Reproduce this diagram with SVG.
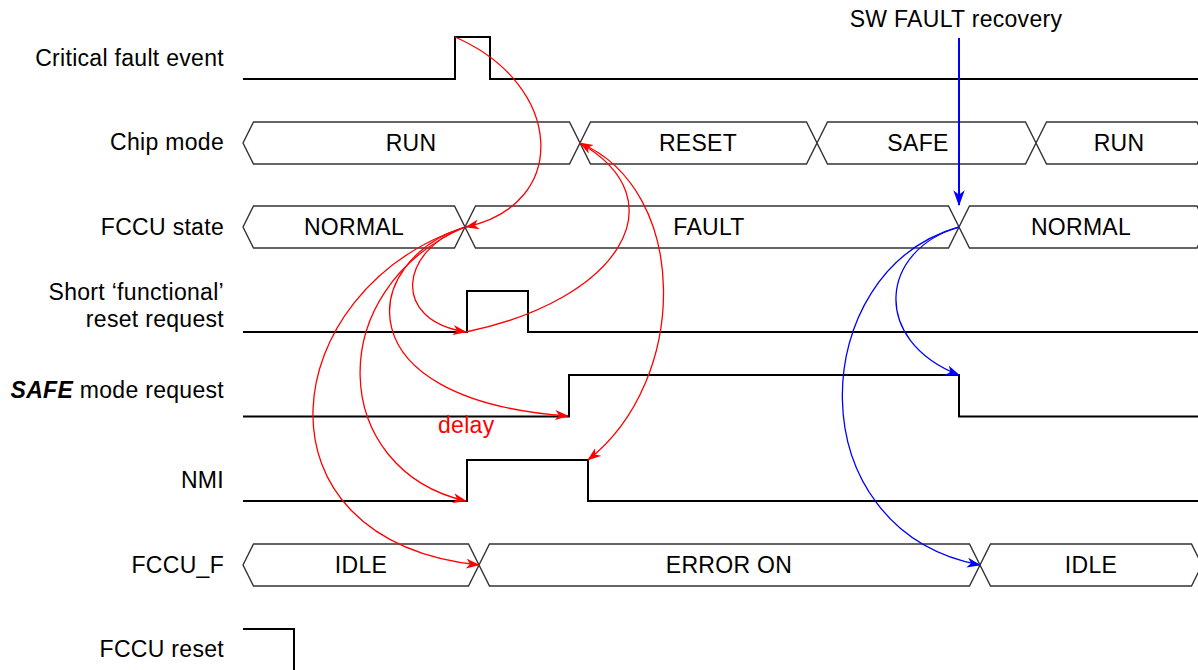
<svg xmlns="http://www.w3.org/2000/svg" width="1198" height="670" viewBox="0 0 1198 670">
<style>
text{font-family:"Liberation Sans",Arial,Helvetica,sans-serif;font-size:23px;fill:#000;letter-spacing:0.3px}
.lbl{text-anchor:end}
.mid{text-anchor:middle}
.sig{fill:none;stroke:#000;stroke-width:2}
.bus{fill:#fff;stroke:#333;stroke-width:1.4;stroke-linejoin:miter}
.r{fill:none;stroke:#f00;stroke-width:1.3}
.b{fill:none;stroke:#00f;stroke-width:1.3}
</style>
<defs>
<marker id="ar" viewBox="0 0 14 10" markerWidth="14" markerHeight="10" refX="13" refY="5" orient="auto" markerUnits="userSpaceOnUse"><path d="M0,0 L14,5 L0,10 L4,5 Z" fill="#f00"/></marker>
<marker id="ab" viewBox="0 0 14 10" markerWidth="14" markerHeight="10" refX="13" refY="5" orient="auto" markerUnits="userSpaceOnUse"><path d="M0,0 L14,5 L0,10 L4,5 Z" fill="#00f"/></marker>
<marker id="ab2" viewBox="0 0 14 10" markerWidth="16" markerHeight="12" refX="13" refY="5" orient="auto" markerUnits="userSpaceOnUse"><path d="M0,0 L14,5 L0,10 L4,5 Z" fill="#00f"/></marker>
</defs>

<g id="labels">
<text class="lbl" x="224" y="66">Critical fault event</text>
<text class="lbl" x="224" y="150">Chip mode</text>
<text class="lbl" x="224" y="235">FCCU state</text>
<text class="lbl" x="224" y="300">Short ‘functional’</text>
<text class="lbl" x="224" y="327">reset request</text>
<text class="lbl" x="224" y="398"><tspan font-weight="bold" font-style="italic">SAFE</tspan> mode request</text>
<text class="lbl" x="224" y="488">NMI</text>
<text class="lbl" x="224" y="573">FCCU_F</text>
<text class="lbl" x="224" y="657">FCCU reset</text>
</g>

<g id="critical-fault">
<path class="sig" d="M243,79 H455 V37 H490 V79 H1198"/>
</g>

<g id="chip-mode">
<path class="bus" d="M243,143 L253.5,122 H569.5 L580,143 L569.5,164 H253.5 Z"/>
<path class="bus" d="M580,143 L590.5,122 H806.5 L817,143 L806.5,164 H590.5 Z"/>
<path class="bus" d="M817,143 L827.5,122 H1025.5 L1036,143 L1025.5,164 H827.5 Z"/>
<path class="bus" d="M1036,143 L1046.5,122 H1197 L1207,143 L1197,164 H1046.5 Z"/>
<text class="mid" x="411" y="151">RUN</text>
<text class="mid" x="698" y="151">RESET</text>
<text class="mid" x="918" y="151">SAFE</text>
<text class="mid" x="1119" y="151">RUN</text>
</g>

<g id="fccu-state">
<path class="bus" d="M243,227 L253.5,206 H454.5 L465,227 L454.5,248 H253.5 Z"/>
<path class="bus" d="M465,227 L475.5,206 H948.5 L959,227 L948.5,248 H475.5 Z"/>
<path class="bus" d="M959,227 L969.5,206 H1197 L1207,227 L1197,248 H969.5 Z"/>
<text class="mid" x="354" y="235">NORMAL</text>
<text class="mid" x="709" y="235">FAULT</text>
<text class="mid" x="1081" y="235">NORMAL</text>
</g>

<g id="short-reset">
<path class="sig" d="M243,332 H467 V291 H528 V332 H1198"/>
</g>

<g id="safe-request">
<path class="sig" d="M243,416.5 H569 V375 H959 V416.5 H1198"/>
</g>

<g id="nmi">
<path class="sig" d="M243,501 H467 V460 H588 V501 H1198"/>
</g>

<g id="fccu-f">
<path class="bus" d="M243,565 L253.5,544 H468.5 L479,565 L468.5,586 H253.5 Z"/>
<path class="bus" d="M479,565 L489.5,544 H969.5 L980,565 L969.5,586 H489.5 Z"/>
<path class="bus" d="M980,565 L990.5,544 H1191.5 L1202,565 L1191.5,586 H990.5 Z"/>
<text class="mid" x="361" y="573">IDLE</text>
<text class="mid" x="729" y="573">ERROR ON</text>
<text class="mid" x="1091" y="573">IDLE</text>
</g>

<g id="fccu-reset">
<path class="sig" d="M243,629 H294 V672"/>
</g>

<g id="annotations">
<text class="mid" x="956" y="27">SW FAULT recovery</text>
<text x="438" y="433" style="fill:#f00">delay</text>
</g>

<g id="connectors">
<path class="r" marker-end="url(#ar)" d="M455,37 C565,85 570,205 466,227"/>
<path class="r" marker-end="url(#ar)" d="M465,227 C400,250 390,320 466,332"/>
<path class="r" marker-end="url(#ar)" d="M465,227 C360,260 340,400 568,416"/>
<path class="r" marker-end="url(#ar)" d="M465,227 C320,290 330,470 466,501"/>
<path class="r" marker-end="url(#ar)" d="M465,227 C275,290 245,540 479,565"/>
<path class="r" marker-end="url(#ar)" d="M466,332 C620,300 680,200 580,143"/>
<path class="r" marker-end="url(#ar)" d="M580,143 C690,190 690,380 588,460"/>
<path class="b" marker-end="url(#ab)" d="M959,227 C880,250 870,340 959,375"/>
<path class="b" marker-end="url(#ab)" d="M959,227 C805,270 795,530 980,565"/>
<line x1="959" y1="38" x2="959" y2="205" stroke="#00f" stroke-width="2" marker-end="url(#ab2)"/>
</g>
</svg>
